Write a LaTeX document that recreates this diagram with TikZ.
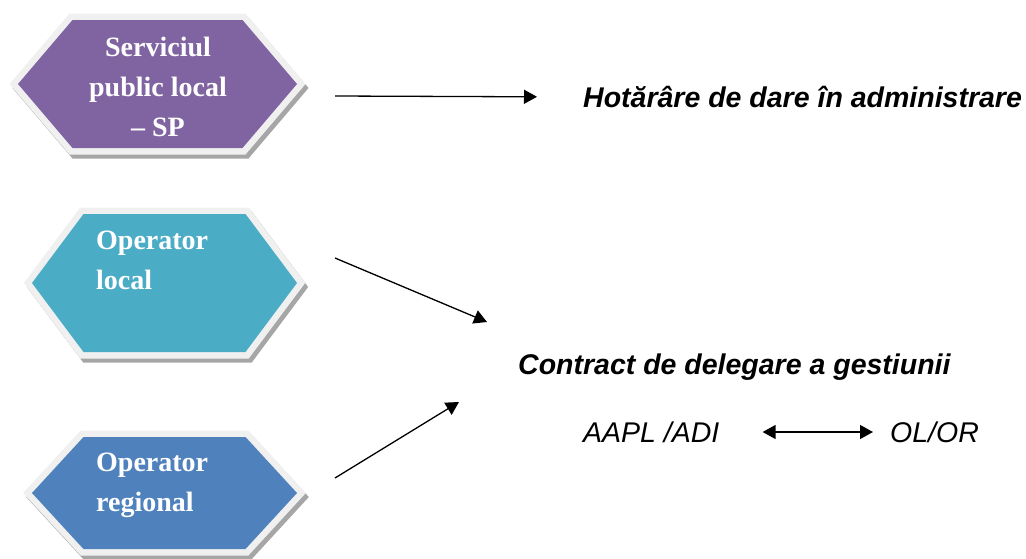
\documentclass[tikz,border=0pt]{standalone}
\usepackage{fontspec}
\setmainfont{Liberation Serif}
\newfontfamily\arialfont{Liberation Sans}
\usetikzlibrary{arrows.meta}
\definecolor{spviolet}{HTML}{8064A2}
\definecolor{olteal}{HTML}{4BACC6}
\definecolor{orblue}{HTML}{4F81BD}
\tikzstyle{hexlabel}=[text=white, font=\fontsize{28}{40}\selectfont\bfseries, inner sep=0pt]
\tikzstyle{doc}=[font=\arialfont\fontsize{28.5}{32}\selectfont\bfseries\itshape, inner sep=0pt, anchor=west]
\tikzstyle{party}=[font=\arialfont\fontsize{28.5}{32}\selectfont\itshape, inner sep=0pt, anchor=west]
\tikzstyle{link}=[-{Triangle[length=13pt,width=14pt]}, line width=1.3pt]
% hexagon: centre x, centre y, half width, half top edge, half height, colour
\newcommand{\hexpath}[5]{({#1-#3},#2) -- ({#1-#4},{#2-#5}) -- ({#1+#4},{#2-#5}) -- ({#1+#3},#2) -- ({#1+#4},{#2+#5}) -- ({#1-#4},{#2+#5}) -- cycle}
\newcommand{\hexagon}[6]{
\draw[line width=13pt, draw=black!35, fill=black!35, line join=miter, shift={(3,4)}] \hexpath{#1}{#2}{#3}{#4}{#5};
\draw[line width=13pt, draw=black!6, fill=black!6, line join=miter] \hexpath{#1}{#2}{#3}{#4}{#5};
\fill[#6] \hexpath{#1}{#2}{#3}{#4}{#5};
}

\begin{document}
\begin{tikzpicture}[x=1pt, y=-1pt]
\useasboundingbox (0,0) rectangle (1026,558);
\hexagon{157.5}{84}{139.5}{85}{64}{spviolet}
\hexagon{164.5}{283}{132.5}{81}{69}{olteal}
\hexagon{164.5}{493}{132.5}{81}{56}{orblue}
\node[hexlabel, align=center] (sp) at (158,87) {Serviciul\\public local\\– SP};
\node[hexlabel, align=left, anchor=west] (ol) at (96,260) {Operator\\local};
\node[hexlabel, align=left, anchor=west] (or) at (96,485) {Operator\\regional};

\node[doc] (hot) at (583,97) {Hotărâre de dare în administrare};
\node[doc] (cdg) at (518,367) {Contract de delegare a gestiunii};
\node[party] (aapl) at (583,432) {AAPL /ADI};
\node[party] (olor) at (890,432) {OL/OR};

\coordinate (sp-out) at (335,96);
\coordinate (ol-out) at (335,258);
\coordinate (or-out) at (335,478);
\coordinate (cdg-in1) at (487,322);
\coordinate (cdg-in2) at (459,402);
\draw[link, shorten >=46pt] (sp-out) -- (hot.west);
\draw[link] (ol-out) -- (cdg-in1);
\draw[link] (or-out) -- (cdg-in2);
\draw[link, {Triangle[length=13pt,width=14pt]}-{Triangle[length=13pt,width=14pt]}, shorten <=43pt, shorten >=17pt] (aapl.east) -- (olor.west);
\end{tikzpicture}
\end{document}
